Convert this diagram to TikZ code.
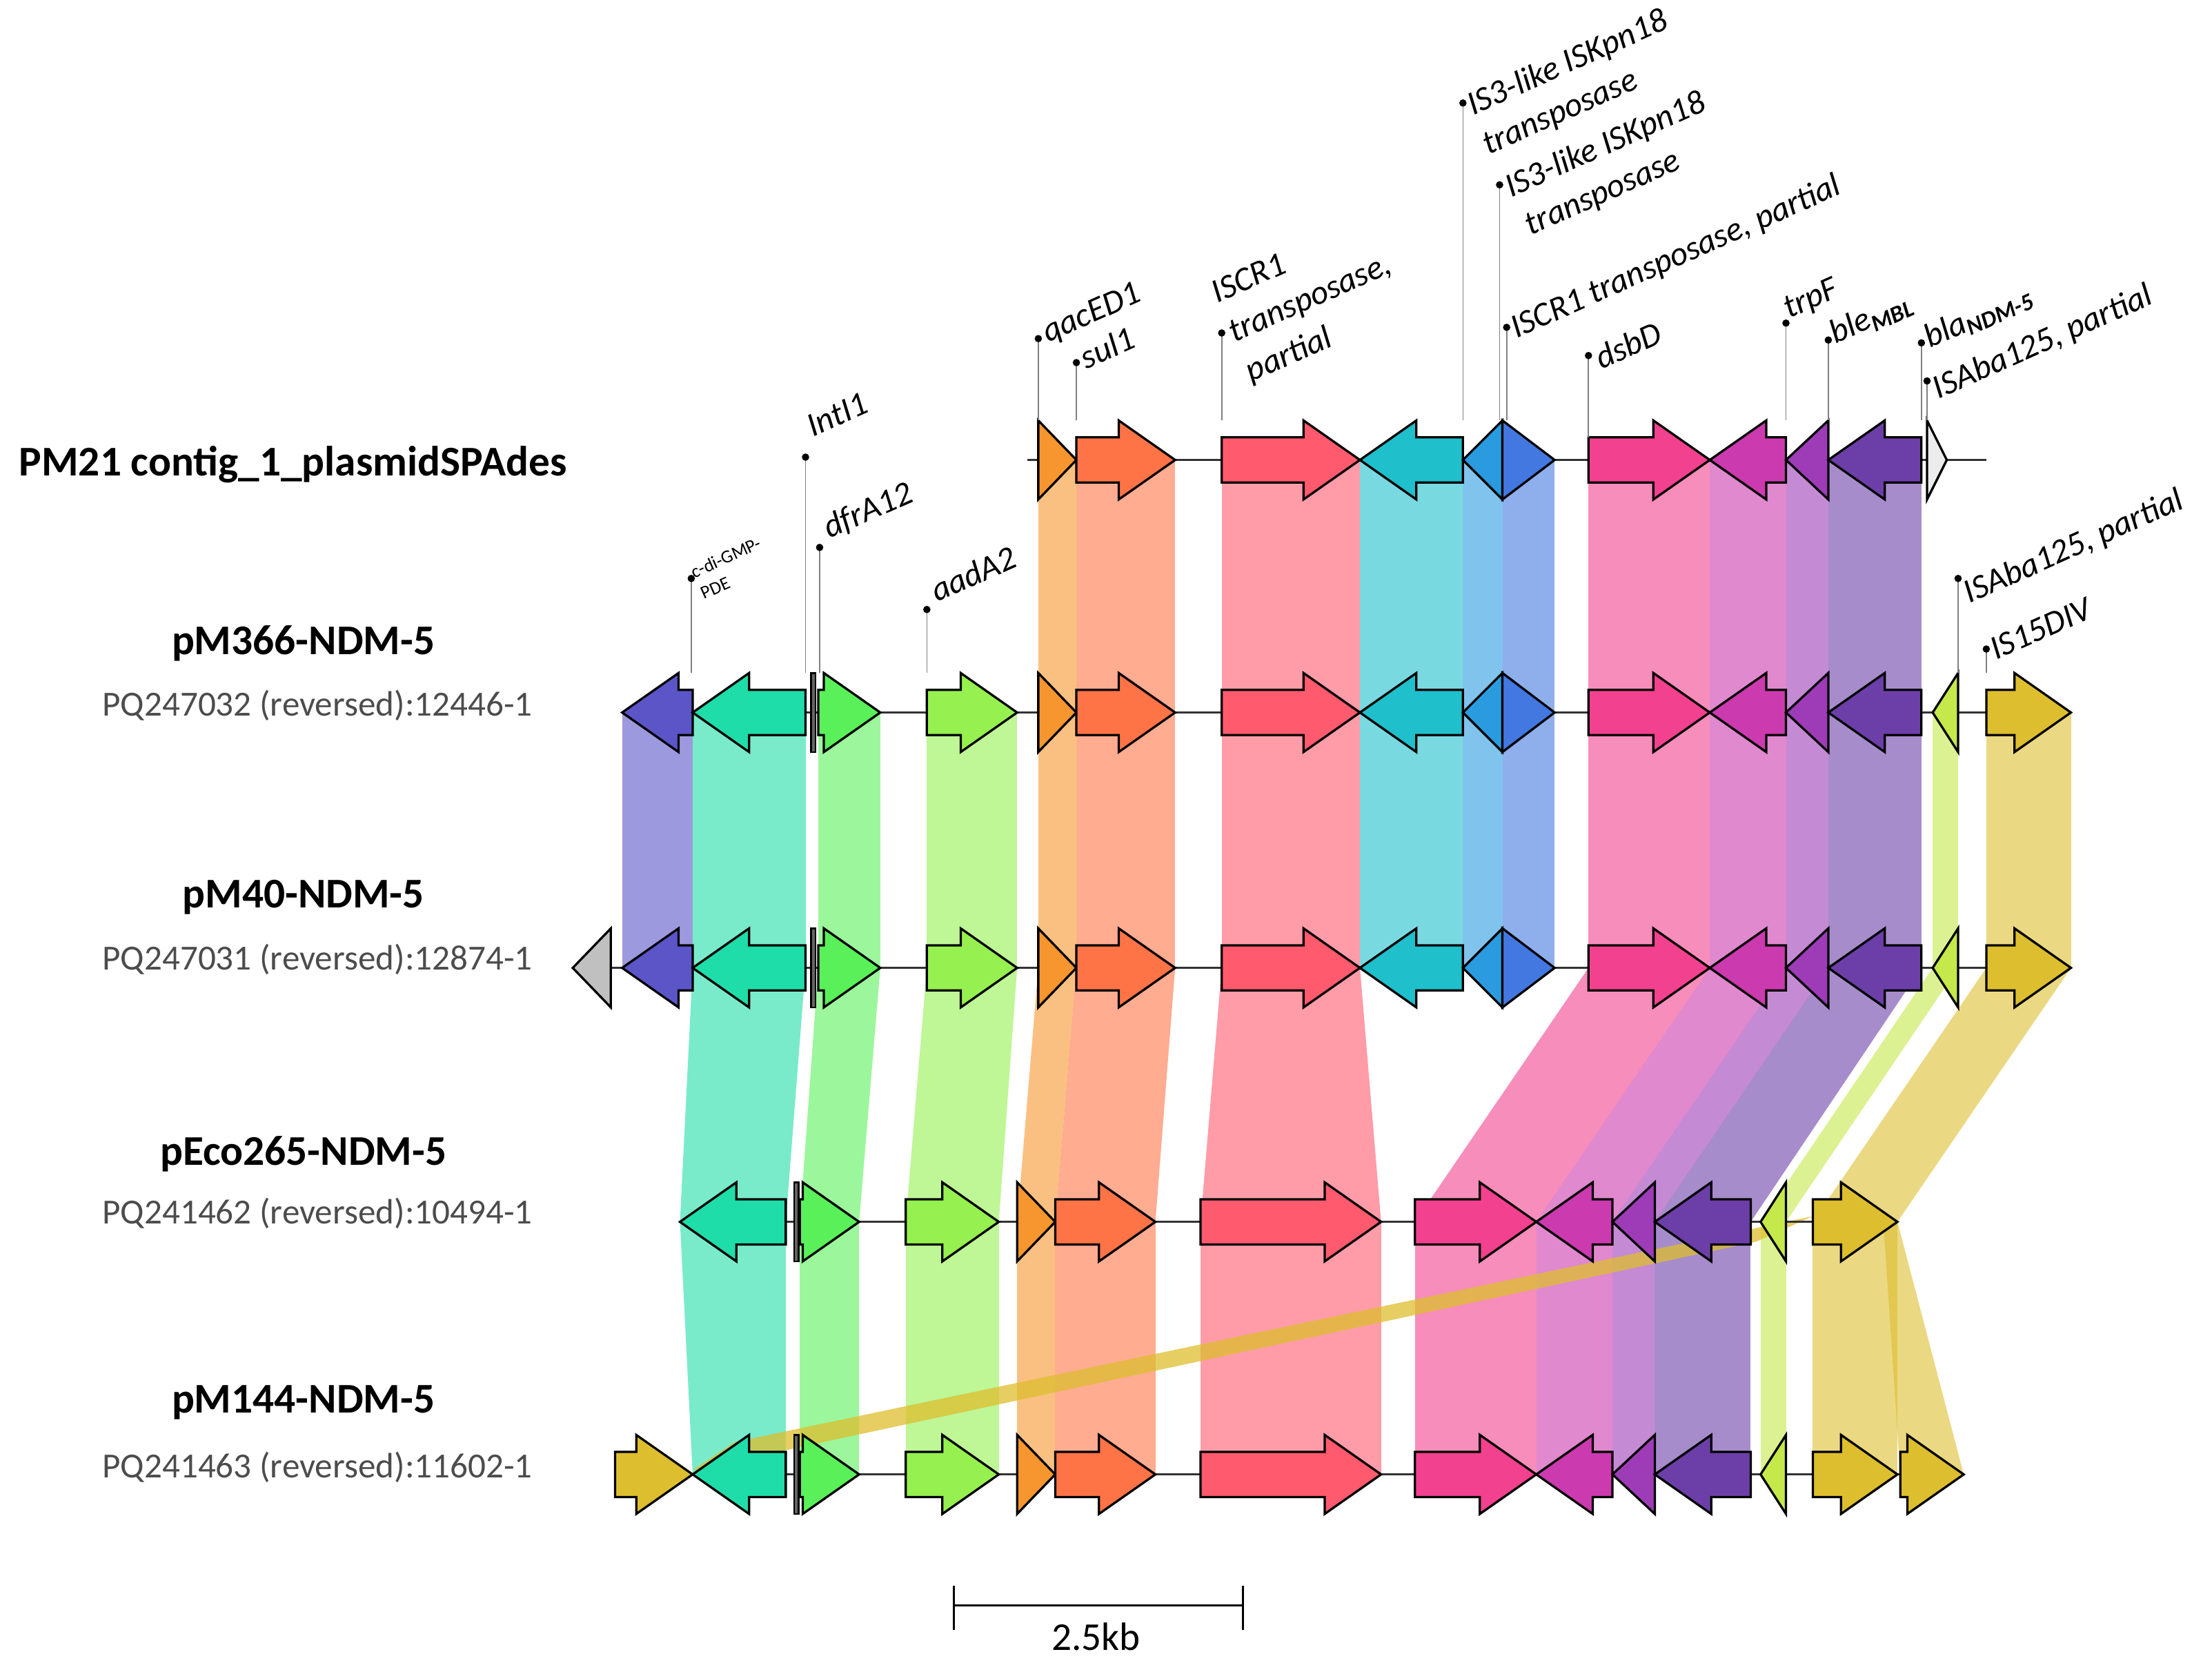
\documentclass[tikz,border=0pt]{standalone}
\usepackage{fontspec}
\setmainfont{Carlito}
\definecolor{orng}{HTML}{F7962F}
\definecolor{coral}{HTML}{FF7447}
\definecolor{rd}{HTML}{FF5A6E}
\definecolor{cyn}{HTML}{1FBFCB}
\definecolor{blA}{HTML}{2B9BE0}
\definecolor{blB}{HTML}{4378E0}
\definecolor{pnk}{HTML}{F2418E}
\definecolor{mag}{HTML}{CB3AAE}
\definecolor{prp}{HTML}{9E3CB8}
\definecolor{dprp}{HTML}{6C3FA8}
\definecolor{lime}{HTML}{C5E84A}
\definecolor{yel}{HTML}{DDBE2E}
\definecolor{vio}{HTML}{5B55C8}
\definecolor{teal2}{HTML}{1FDDA8}
\definecolor{grn}{HTML}{5AF05A}
\definecolor{lgrn}{HTML}{95F050}
\definecolor{gry}{HTML}{C0C0C0}
\tikzset{
  gene/.style={draw=black,line width=1.6pt,line join=miter},
  bb/.style={line width=1.6pt,black!80},
  lead/.style={gray,line width=0.8pt},
  lab/.style={rotate=24,anchor=base west,inner sep=0pt,font=\fontsize{24}{28}\selectfont\itshape},
  title/.style={font=\fontsize{30}{34}\selectfont\bfseries},
  acc/.style={font=\fontsize{25}{29}\selectfont,text=black!70}
}
% forward gene: x1, x2, y, colour
\newcommand\gf[4]{%
  \pgfmathsetmacro\hl{min(40,#2-#1)}\pgfmathsetmacro\xh{#2-\hl}%
  \filldraw[gene,fill=#4] (#1,#3-16) -- (\xh,#3-16) -- (\xh,#3-28) -- (#2,#3)
    -- (\xh,#3+28) -- (\xh,#3+16) -- (#1,#3+16) -- cycle;}
% reverse gene
\newcommand\gr[4]{%
  \pgfmathsetmacro\hl{min(40,#2-#1)}\pgfmathsetmacro\xh{#1+\hl}%
  \filldraw[gene,fill=#4] (#2,#3-16) -- (\xh,#3-16) -- (\xh,#3-28) -- (#1,#3)
    -- (\xh,#3+28) -- (\xh,#3+16) -- (#2,#3+16) -- cycle;}
% tiny gene bar
\newcommand\gbar[3]{\filldraw[gene,fill=black!60,line width=1.2pt] (#1,#3-28) rectangle (#2,#3+28);}
% homology band: x1,x2 at y1 ; x3,x4 at y2 ; colour
\newcommand\band[7]{%
  \fill[#7,fill opacity=0.6] (#1,#3) -- (#2,#3) -- (#5,#6) -- (#4,#6) -- cycle;}
% leader with dot
\newcommand\leader[3]{\draw[lead] (#1,#2) -- (#1,#3); \fill (#1,#2) circle (2.6);}
\begin{document}
\begin{tikzpicture}[x=1pt,y=-1pt]
\useasboundingbox (0,0) rectangle (1568,1185);

% ---- bands 1-2
\foreach \a/\b/\c in {736/763/orng,763/833/coral,866/964/rd,964/1037/cyn,1037/1065/blA,1065/1102/blB,1126/1212/pnk,1212/1266/mag,1266/1296/prp,1296/1362/dprp}
  {\band{\a}{\b}{326}{\a}{\b}{505}{\c}}
% ---- bands 2-3
\foreach \a/\b/\c in {441/491/vio,491/571/teal2,580/624/grn,657/721/lgrn,736/763/orng,763/833/coral,866/964/rd,964/1037/cyn,1037/1065/blA,1065/1102/blB,1126/1212/pnk,1212/1266/mag,1266/1296/prp,1296/1362/dprp,1370/1388/lime,1408/1468/yel}
  {\band{\a}{\b}{505}{\a}{\b}{686}{\c}}
% ---- bands 3-4
\foreach \a/\b/\p/\q/\c in {491/571/482/557/teal2,580/624/567/609/grn,657/721/642/708/lgrn,736/763/721/748/orng,763/833/748/819/coral,866/964/851/979/rd,1126/1212/1003/1089/pnk,1212/1266/1089/1143/mag,1266/1296/1143/1173/prp,1296/1362/1173/1241/dprp,1370/1388/1248/1266/lime,1408/1468/1285/1345/yel}
  {\band{\a}{\b}{686}{\p}{\q}{866}{\c}}
% ---- bands 4-5
\foreach \a/\b/\p/\q/\c in {482/557/491/557/teal2,567/609/567/609/grn,642/708/642/708/lgrn,721/748/721/748/orng,748/819/748/819/coral,851/979/851/979/rd,1003/1089/1003/1089/pnk,1089/1143/1089/1143/mag,1143/1173/1143/1173/prp,1173/1241/1173/1241/dprp,1248/1266/1248/1266/lime,1285/1345/1285/1345/yel,1335/1345/1347/1392/yel}
  {\band{\a}{\b}{866}{\p}{\q}{1045}{\c}}
\fill[yel,fill opacity=0.75] (1245,880) -- (1285,862) -- (521,1022) -- (491,1042) -- cycle;

% ---- backbones
\draw[bb] (728,326) -- (1408,326);
\draw[bb] (441,505) -- (1468,505);
\draw[bb] (406,686) -- (1468,686);
\draw[bb] (482,866) -- (1345,866);
\draw[bb] (436,1045) -- (1392,1045);

% ---- track 1
\gf{736}{763}{326}{orng}\gf{763}{833}{326}{coral}\gf{866}{964}{326}{rd}
\gr{964}{1037}{326}{cyn}\gr{1037}{1065}{326}{blA}\gf{1065}{1102}{326}{blB}
\gf{1126}{1212}{326}{pnk}\gr{1212}{1266}{326}{mag}\gr{1266}{1296}{326}{prp}
\gr{1296}{1362}{326}{dprp}\gf{1366}{1380}{326}{gry!30}
% ---- tracks 2 and 3
\foreach \y in {505,686}{
\gr{441}{491}{\y}{vio}\gr{491}{571}{\y}{teal2}\gbar{575}{578}{\y}\gf{580}{624}{\y}{grn}
\gf{657}{721}{\y}{lgrn}\gf{736}{763}{\y}{orng}\gf{763}{833}{\y}{coral}\gf{866}{964}{\y}{rd}
\gr{964}{1037}{\y}{cyn}\gr{1037}{1065}{\y}{blA}\gf{1065}{1102}{\y}{blB}
\gf{1126}{1212}{\y}{pnk}\gr{1212}{1266}{\y}{mag}\gr{1266}{1296}{\y}{prp}
\gr{1296}{1362}{\y}{dprp}\gr{1370}{1388}{\y}{lime}\gf{1408}{1468}{\y}{yel}}
\gr{406}{433}{686}{gry}
% ---- tracks 4 and 5
\foreach \y in {866,1045}{
\gbar{563}{566}{\y}\gf{567}{609}{\y}{grn}\gf{642}{708}{\y}{lgrn}
\gf{721}{748}{\y}{orng}\gf{748}{819}{\y}{coral}\gf{851}{979}{\y}{rd}
\gf{1003}{1089}{\y}{pnk}\gr{1089}{1143}{\y}{mag}\gr{1143}{1173}{\y}{prp}
\gr{1173}{1241}{\y}{dprp}\gr{1248}{1266}{\y}{lime}\gf{1285}{1345}{\y}{yel}}
\gr{482}{557}{866}{teal2}
\gf{436}{491}{1045}{yel}\gr{491}{557}{1045}{teal2}\gf{1347}{1392}{1045}{yel}

% ---- track titles
\node[title,anchor=west] (t1) at (10,329) {PM21 contig\_1\_plasmidSPAdes};
\node[title] (t2) at (215,456) {pM366-NDM-5};
\node[acc] (a2) at (225,500) {PQ247032 (reversed):12446-1};
\node[title] (t3) at (215,636) {pM40-NDM-5};
\node[acc] (a3) at (225,680) {PQ247031 (reversed):12874-1};
\node[title] (t4) at (215,818) {pEco265-NDM-5};
\node[acc] (a4) at (225,860) {PQ241462 (reversed):10494-1};
\node[title] (t5) at (215,994) {pM144-NDM-5};
\node[acc] (a5) at (225,1040) {PQ241463 (reversed):11602-1};

% ---- leaders and gene labels, track 1
\leader{736}{240}{298}\node[lab] (l1) at (743,243) {qacED1};
\leader{763}{257}{298}\node[lab] (l2) at (770,262) {sul1};
\leader{866}{236}{298}
\node[lab] (l3a) at (863,215) {ISCR1};
\node[lab] (l3b) at (875,243) {transposase,};
\node[lab] (l3c) at (887,271) {partial};
\leader{1037}{73}{298}
\node[lab] (l4a) at (1044,82) {IS3-like ISKpn18};
\node[lab] (l4b) at (1055,110) {transposase};
\leader{1063}{131}{298}
\node[lab] (l5a) at (1071,140) {IS3-like ISKpn18};
\node[lab] (l5b) at (1085,167) {transposase};
\leader{1068}{232}{298}\node[lab] (l6) at (1075,240) {ISCR1 transposase, partial};
\leader{1126}{252}{310}\node[lab] (l7) at (1135,262) {dsbD};
\leader{1266}{229}{298}\node[lab] (l8) at (1268,226) {trpF};
\leader{1296}{241}{298}\node[lab] (l9) at (1301,244) {ble\textsubscript{\bfseries MBL}};
\leader{1362}{243}{298}\node[lab] (l10) at (1368,247) {bla\textsubscript{\bfseries NDM-5}};
\leader{1366}{270}{298}\node[lab] (l11) at (1374,283) {ISAba125, partial};
% ---- track 2
\leader{571}{324}{477}\node[lab] (l12) at (576,310) {IntI1};
\leader{490}{410}{477}
\node[lab,font=\fontsize{13}{15}\selectfont] (l13a) at (492,410) {c-di-GMP-};
\node[lab,font=\fontsize{13}{15}\selectfont] (l13b) at (499,425) {PDE};
\leader{581}{388}{477}\node[lab] (l14) at (588,382) {dfrA12};
\leader{657}{432}{477}\node[lab] (l15) at (664,427) {aadA2};
\leader{1388}{410}{477}\node[lab] (l16) at (1396,428) {ISAba125, partial};
\leader{1408}{460}{477}\node[lab] (l17) at (1415,468) {IS15DIV};

% ---- scale bar
\coordinate (s1) at (676,1138); \coordinate (s2) at (881,1138);
\draw[line width=1.6pt] (s1) -- (s2);
\draw[line width=1.6pt] (676,1124) -- (676,1155) (881,1124) -- (881,1155);
\node[font=\fontsize{28}{32}\selectfont] (sb) at (777,1160) {2.5kb};
\end{tikzpicture}
\end{document}
